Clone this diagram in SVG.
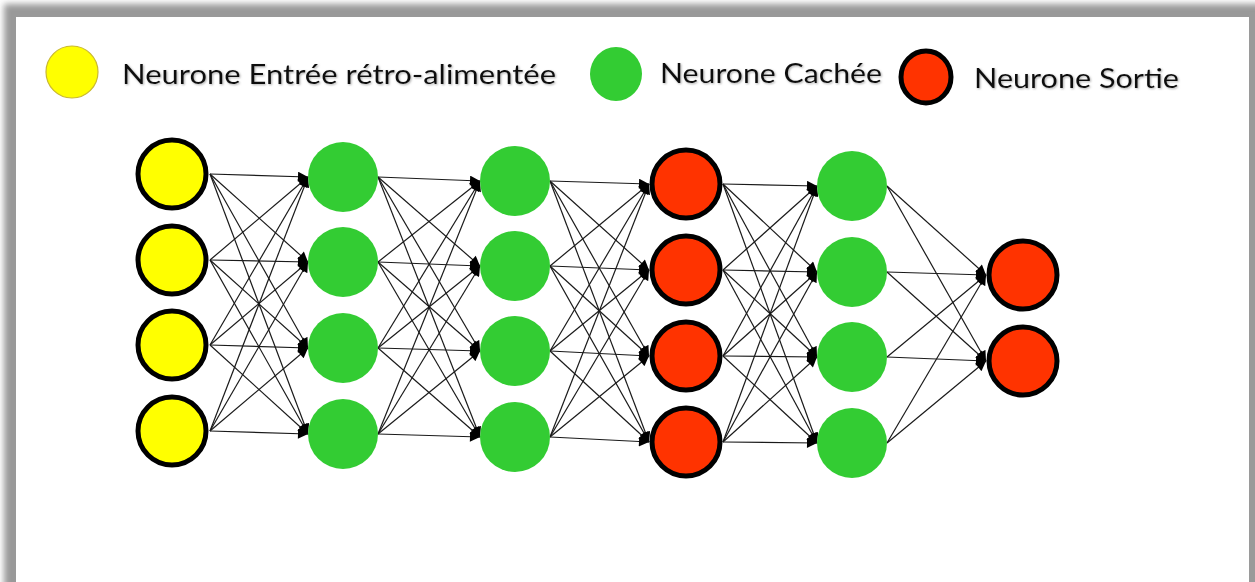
<svg xmlns="http://www.w3.org/2000/svg" width="1255" height="582" viewBox="0 0 1255 582">
<defs>
<filter id="blur" x="-5%" y="-5%" width="110%" height="110%"><feGaussianBlur stdDeviation="3"/></filter>
<filter id="tshadow" x="-5%" y="-30%" width="110%" height="160%"><feDropShadow dx="1" dy="1" stdDeviation="1" flood-color="#777" flood-opacity="0.6"/></filter>
<marker id="arr" viewBox="0 0 10 10" refX="10" refY="5" markerWidth="11" markerHeight="10" markerUnits="userSpaceOnUse" orient="auto"><path d="M0,0 L10,5 L0,10 z" fill="#000"/></marker>
</defs>
<style>
.lbl{font-family:"Lato","Open Sans","Liberation Sans",sans-serif;font-size:27px;fill:#111;}
.yel{fill:#ffff00;stroke:#000;stroke-width:5;}
.grn{fill:#33cc33;stroke:none;}
.red{fill:#ff3300;stroke:#000;stroke-width:5;}
.edge{stroke:#1a1a1a;stroke-width:1.2;fill:none;marker-end:url(#arr);}
</style>
<rect x="0" y="0" width="1255" height="582" fill="#fff"/>
<rect x="4" y="4" width="1260" height="600" fill="#999" filter="url(#blur)"/>
<rect x="1249" y="12" width="6" height="570" fill="#9a9a9a"/>
<rect x="16" y="17" width="1233" height="570" fill="#fff"/>

<g id="legend">
<g id="legend-input"><circle cx="72" cy="72" r="26" fill="#ffff00" stroke="#c9b830" stroke-width="1.2"/><text class="lbl" x="122" y="84" textLength="434" lengthAdjust="spacingAndGlyphs" filter="url(#tshadow)">Neurone Entrée rétro-alimentée</text></g>
<g id="legend-hidden"><ellipse cx="616" cy="74" rx="26" ry="27" fill="#33cc33"/><text class="lbl" x="660" y="83" textLength="222" lengthAdjust="spacingAndGlyphs" filter="url(#tshadow)">Neurone Cachée</text></g>
<g id="legend-output"><ellipse cx="926" cy="77" rx="25" ry="26" class="red"/><text class="lbl" x="974" y="88" textLength="205" lengthAdjust="spacingAndGlyphs" filter="url(#tshadow)">Neurone Sortie</text></g>
</g>

<g id="connectors">
<path class="edge" d="M210,174 L308,177"/><path class="edge" d="M210,174 L308,262"/><path class="edge" d="M210,174 L308,348"/><path class="edge" d="M210,174 L308,434"/>
<path class="edge" d="M210,260 L308,177"/><path class="edge" d="M210,260 L308,262"/><path class="edge" d="M210,260 L308,348"/><path class="edge" d="M210,260 L308,434"/>
<path class="edge" d="M210,345 L308,177"/><path class="edge" d="M210,345 L308,262"/><path class="edge" d="M210,345 L308,348"/><path class="edge" d="M210,345 L308,434"/>
<path class="edge" d="M210,431 L308,177"/><path class="edge" d="M210,431 L308,262"/><path class="edge" d="M210,431 L308,348"/><path class="edge" d="M210,431 L308,434"/>

<path class="edge" d="M378,177 L480,181"/><path class="edge" d="M378,177 L480,266"/><path class="edge" d="M378,177 L480,351"/><path class="edge" d="M378,177 L480,437"/>
<path class="edge" d="M378,262 L480,181"/><path class="edge" d="M378,262 L480,266"/><path class="edge" d="M378,262 L480,351"/><path class="edge" d="M378,262 L480,437"/>
<path class="edge" d="M378,348 L480,181"/><path class="edge" d="M378,348 L480,266"/><path class="edge" d="M378,348 L480,351"/><path class="edge" d="M378,348 L480,437"/>
<path class="edge" d="M378,434 L480,181"/><path class="edge" d="M378,434 L480,266"/><path class="edge" d="M378,434 L480,351"/><path class="edge" d="M378,434 L480,437"/>

<path class="edge" d="M550,181 L649,184"/><path class="edge" d="M550,181 L649,270"/><path class="edge" d="M550,181 L649,356"/><path class="edge" d="M550,181 L649,442"/>
<path class="edge" d="M550,266 L649,184"/><path class="edge" d="M550,266 L649,270"/><path class="edge" d="M550,266 L649,356"/><path class="edge" d="M550,266 L649,442"/>
<path class="edge" d="M550,351 L649,184"/><path class="edge" d="M550,351 L649,270"/><path class="edge" d="M550,351 L649,356"/><path class="edge" d="M550,351 L649,442"/>
<path class="edge" d="M550,437 L649,184"/><path class="edge" d="M550,437 L649,270"/><path class="edge" d="M550,437 L649,356"/><path class="edge" d="M550,437 L649,442"/>

<path class="edge" d="M723,184 L817,186"/><path class="edge" d="M723,184 L817,272"/><path class="edge" d="M723,184 L817,357"/><path class="edge" d="M723,184 L817,443"/>
<path class="edge" d="M723,270 L817,186"/><path class="edge" d="M723,270 L817,272"/><path class="edge" d="M723,270 L817,357"/><path class="edge" d="M723,270 L817,443"/>
<path class="edge" d="M723,356 L817,186"/><path class="edge" d="M723,356 L817,272"/><path class="edge" d="M723,356 L817,357"/><path class="edge" d="M723,356 L817,443"/>
<path class="edge" d="M723,442 L817,186"/><path class="edge" d="M723,442 L817,272"/><path class="edge" d="M723,442 L817,357"/><path class="edge" d="M723,442 L817,443"/>

<path class="edge" d="M887,186 L986,275"/><path class="edge" d="M887,186 L986,361"/>
<path class="edge" d="M887,272 L986,275"/><path class="edge" d="M887,272 L986,361"/>
<path class="edge" d="M887,357 L986,275"/><path class="edge" d="M887,357 L986,361"/>
<path class="edge" d="M887,443 L986,275"/><path class="edge" d="M887,443 L986,361"/>
</g>

<g id="layer1">
<g id="n1-1"><circle class="yel" cx="172" cy="174" r="34"/></g>
<g id="n1-2"><circle class="yel" cx="172" cy="260" r="34"/></g>
<g id="n1-3"><circle class="yel" cx="172" cy="345" r="34"/></g>
<g id="n1-4"><circle class="yel" cx="172" cy="431" r="34"/></g>
</g>
<g id="layer2">
<g id="n2-1"><circle class="grn" cx="343" cy="177" r="35"/></g>
<g id="n2-2"><circle class="grn" cx="343" cy="262" r="35"/></g>
<g id="n2-3"><circle class="grn" cx="343" cy="348" r="35"/></g>
<g id="n2-4"><circle class="grn" cx="343" cy="434" r="35"/></g>
</g>
<g id="layer3">
<g id="n3-1"><circle class="grn" cx="515" cy="181" r="35"/></g>
<g id="n3-2"><circle class="grn" cx="515" cy="266" r="35"/></g>
<g id="n3-3"><circle class="grn" cx="515" cy="351" r="35"/></g>
<g id="n3-4"><circle class="grn" cx="515" cy="437" r="35"/></g>
</g>
<g id="layer4">
<g id="n4-1"><circle class="red" cx="686" cy="184" r="34"/></g>
<g id="n4-2"><circle class="red" cx="686" cy="270" r="34"/></g>
<g id="n4-3"><circle class="red" cx="686" cy="356" r="34"/></g>
<g id="n4-4"><circle class="red" cx="686" cy="442" r="34"/></g>
</g>
<g id="layer5">
<g id="n5-1"><circle class="grn" cx="852" cy="186" r="35"/></g>
<g id="n5-2"><circle class="grn" cx="852" cy="272" r="35"/></g>
<g id="n5-3"><circle class="grn" cx="852" cy="357" r="35"/></g>
<g id="n5-4"><circle class="grn" cx="852" cy="443" r="35"/></g>
</g>
<g id="layer6">
<g id="n6-1"><circle class="red" cx="1023" cy="275" r="34"/></g>
<g id="n6-2"><circle class="red" cx="1023" cy="361" r="34"/></g>
</g>
</svg>
